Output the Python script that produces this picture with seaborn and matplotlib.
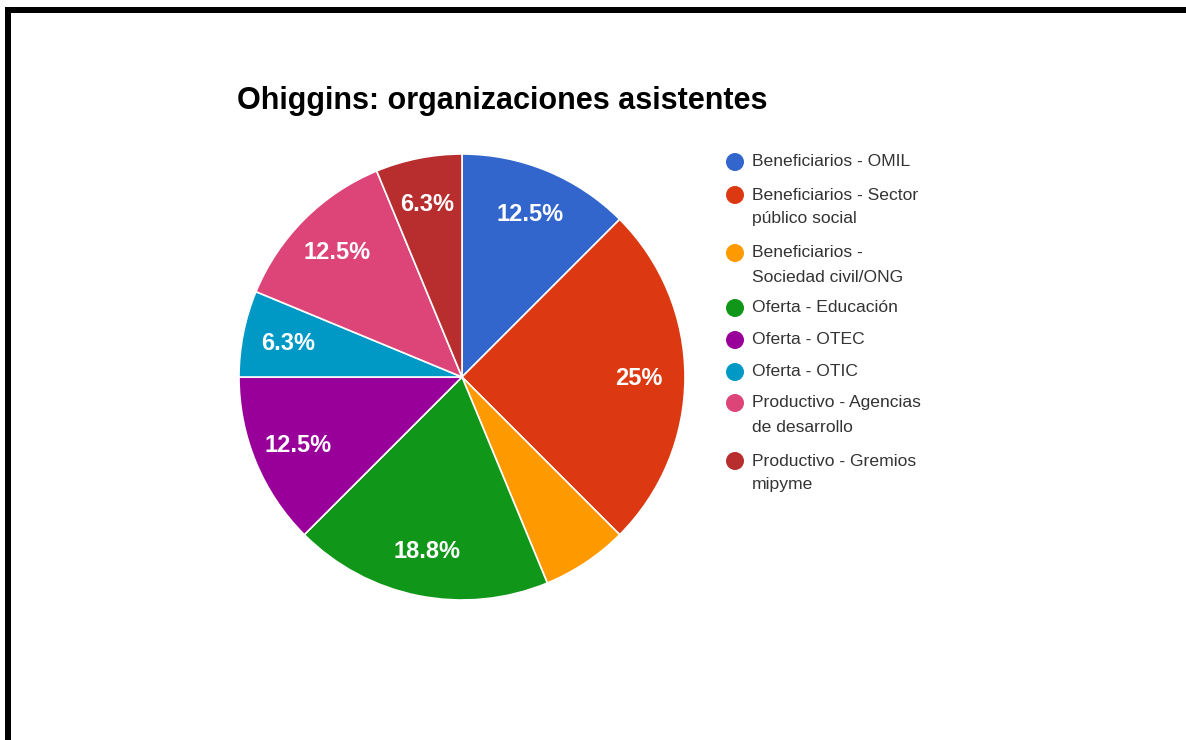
import matplotlib
matplotlib.use("Agg")
import matplotlib.pyplot as plt
from matplotlib.lines import Line2D
from matplotlib.patches import Ellipse
import numpy as np
import seaborn as sns
from decimal import Decimal, ROUND_HALF_UP

categories = [
    "Beneficiarios - OMIL",
    "Beneficiarios - Sector\npúblico social",
    "Beneficiarios -\nSociedad civil/ONG",
    "Oferta - Educación",
    "Oferta - OTEC",
    "Oferta - OTIC",
    "Productivo - Agencias\nde desarrollo",
    "Productivo - Gremios\nmipyme",
]
values = [2, 4, 1, 3, 2, 1, 2, 1]
show_label = [True, True, False, True, True, True, True, True]
colors = ["#3366cc", "#dc3912", "#ff9900", "#109618",
          "#990099", "#0099c6", "#dd4477", "#b82e2e"]
title = "Ohiggins: organizaciones asistentes"

sns.set_theme(style="white")
plt.rcParams["font.family"] = ["Liberation Sans", "DejaVu Sans"]
palette = sns.color_palette(colors)

W, H = 1186, 740
fig = plt.figure(figsize=(W / 100, H / 100), dpi=100)
fig.patch.set_facecolor("white")

cx, cy, r = 462, 377, 223
ax = fig.add_axes([(cx - r) / W, (H - cy - r) / H, 2 * r / W, 2 * r / H])

total = sum(values)

def fmt(v):
    pct = Decimal(v) * 100 / Decimal(total)
    s = str(pct.quantize(Decimal("0.1"), rounding=ROUND_HALF_UP))
    if s.endswith(".0"):
        s = s[:-2]
    return s + "%"

wedges, _ = ax.pie(values, colors=palette, startangle=90, counterclock=False,
                   radius=1, wedgeprops=dict(edgecolor="white", linewidth=1.2))
for w, v, show in zip(wedges, values, show_label):
    if not show:
        continue
    th = np.deg2rad((w.theta1 + w.theta2) / 2)
    d = 0.795
    ax.text(d * np.cos(th), d * np.sin(th) - 0.005, fmt(v), ha="center", va="center",
            color="white", fontsize=17, fontweight="bold")
ax.set_xlim(-1, 1)
ax.set_ylim(-1, 1)
ax.set_aspect("equal")
ax.axis("off")

fig.text(237 / W, 1 - 101 / H, title, ha="left", va="center",
         fontsize=22, fontweight="bold", color="#000000")

# legend
rows = [162, 195, 253, 308, 340, 372, 403, 461]
for cat, col, y in zip(categories, palette, rows):
    fig.add_artist(Ellipse((735 / W, 1 - y / H), 18 / W, 18 / H,
                           transform=fig.transFigure,
                           facecolor=col, edgecolor="none"))
    for i, ln in enumerate(cat.split("\n")):
        fig.text(752 / W, 1 - (y + 24 * i) / H, ln, ha="left", va="center",
                 fontsize=12.6, color="#333333")

# border
fig.add_artist(Line2D([5 / W, 1], [1 - 10 / H, 1 - 10 / H], color="black",
                      linewidth=6 * 0.72, transform=fig.transFigure,
                      solid_capstyle="butt"))
fig.add_artist(Line2D([8 / W, 8 / W], [1 - 7 / H, 0], color="black",
                      linewidth=6 * 0.72, transform=fig.transFigure,
                      solid_capstyle="butt"))

fig.savefig("out.png", dpi=100, facecolor="white")
